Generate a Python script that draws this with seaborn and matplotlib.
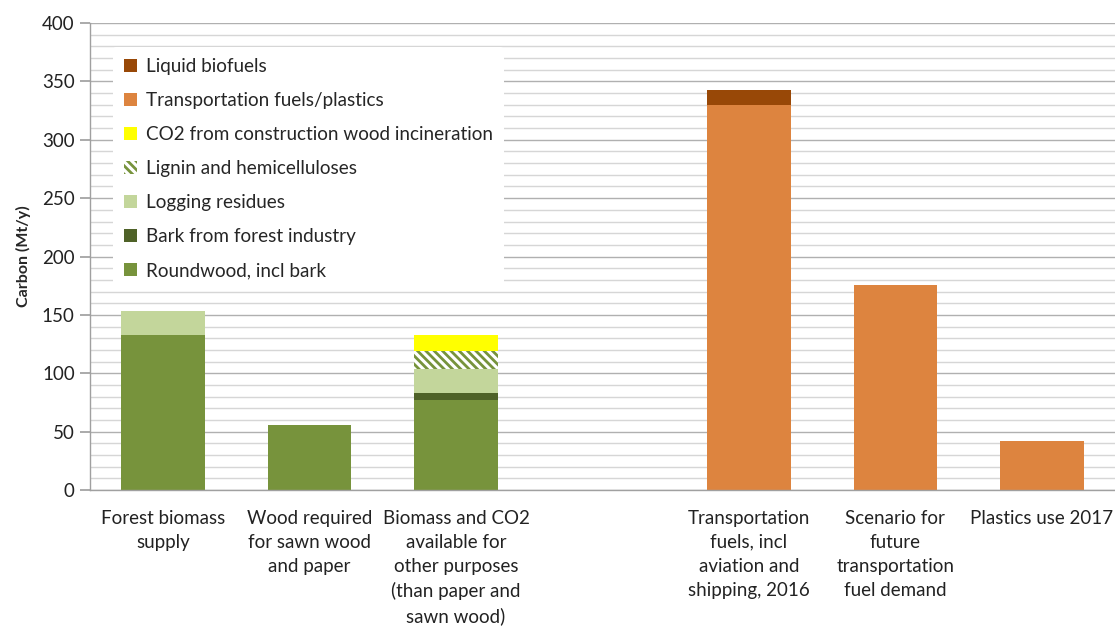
import matplotlib
matplotlib.use("Agg")
import matplotlib.pyplot as plt
import seaborn as sns
import numpy as np
from matplotlib.ticker import MultipleLocator

categories = ["Forest biomass\nsupply", "Wood required\nfor sawn wood\nand paper",
              "Biomass and CO2\navailable for\nother purposes\n(than paper and\nsawn wood)",
              " ",
              "Transportation\nfuels, incl\naviation and\nshipping, 2016",
              "Scenario for\nfuture\ntransportation\nfuel demand",
              "Plastics use 2017"]

series_names = ["Roundwood, incl bark", "Bark from forest industry", "Logging residues",
                "Lignin and hemicelluloses", "CO2 from construction wood incineration",
                "Transportation fuels/plastics", "Liquid biofuels"]
roundwood = [133, 56, 77, 0, 0, 0, 0]
bark = [0, 0, 6, 0, 0, 0, 0]
logging = [20, 0, 21, 0, 0, 0, 0]
lignin = [0, 0, 15, 0, 0, 0, 0]
co2 = [0, 0, 14, 0, 0, 0, 0]
transport = [0, 0, 0, 0, 330, 176, 42]
biofuels = [0, 0, 0, 0, 13, 0, 0]
series_values = [roundwood, bark, logging, lignin, co2, transport, biofuels]
colors = ["#77933C", "#4F6228", "#C3D69B", "white", "#FFFF00", "#DD843F", "#984807"]

sns.set_theme(style="white")
plt.rcParams['font.family'] = ['Lato', 'DejaVu Sans']
plt.rcParams['hatch.linewidth'] = 2.0

fig = plt.figure(figsize=(11.15, 6.26), dpi=100)
ax = fig.add_axes([0.0807, 0.217, 0.9193, 0.7463])

keys = [f"c{i}" for i in range(len(categories))]
bottom = np.zeros(len(categories))
handles = []
for name, vals, col in zip(series_names, series_values, colors):
    vals = np.array(vals, dtype=float)
    sns.barplot(x=keys, y=vals, bottom=bottom, color=col, width=0.57,
                saturation=1, linewidth=0, ax=ax, label=name, order=keys)
    cont = ax.containers[-1]
    if name.startswith("Lignin"):
        for p in cont:
            p.set_facecolor("white")
            p.set_edgecolor("#77933C")
            p.set_hatch("\\\\\\\\")
            p.set_linewidth(0)
    handles.append(cont)
    bottom = bottom + vals

ax.set_ylim(0, 400)
ax.set_xlim(-0.5, len(categories) - 0.5)
ax.yaxis.set_major_locator(MultipleLocator(50))
ax.yaxis.set_minor_locator(MultipleLocator(10))
ax.grid(True, which="major", axis="y", color="#B0B0B0", linewidth=1.0)
ax.grid(True, which="minor", axis="y", color="#D6D6D6", linewidth=1.0)
ax.set_axisbelow(True)
for s in ["right", "top"]:
    ax.spines[s].set_visible(False)
for s in ["left", "bottom"]:
    ax.spines[s].set_color("#A0A0A0")
    ax.spines[s].set_linewidth(1.0)
ax.tick_params(axis="y", which="major", left=True, length=7, color="#A0A0A0",
               labelsize=13.5, labelcolor="#222222", pad=4)
ax.tick_params(axis="y", which="minor", left=False)
ax.tick_params(axis="x", bottom=False, labelsize=13.5, labelcolor="#222222", pad=8)
ax.set_xticks(range(len(categories)))
ax.set_xticklabels(categories, linespacing=1.5, va="top")
ax.set_xlabel("")
ax.set_ylabel("Carbon (Mt/y)", fontsize=11.5, fontweight="bold", labelpad=8)

leg = ax.legend(handles[::-1], series_names[::-1], loc="upper left",
                bbox_to_anchor=(0.022, 0.949), borderaxespad=0, frameon=True,
                fontsize=13.6, labelspacing=0.9, handlelength=0.7, handleheight=0.7,
                handletextpad=0.45, borderpad=0.6)
leg.get_frame().set_facecolor("white")
leg.get_frame().set_edgecolor("none")
leg.get_frame().set_alpha(1)

fig.savefig("out.png", dpi=100)
